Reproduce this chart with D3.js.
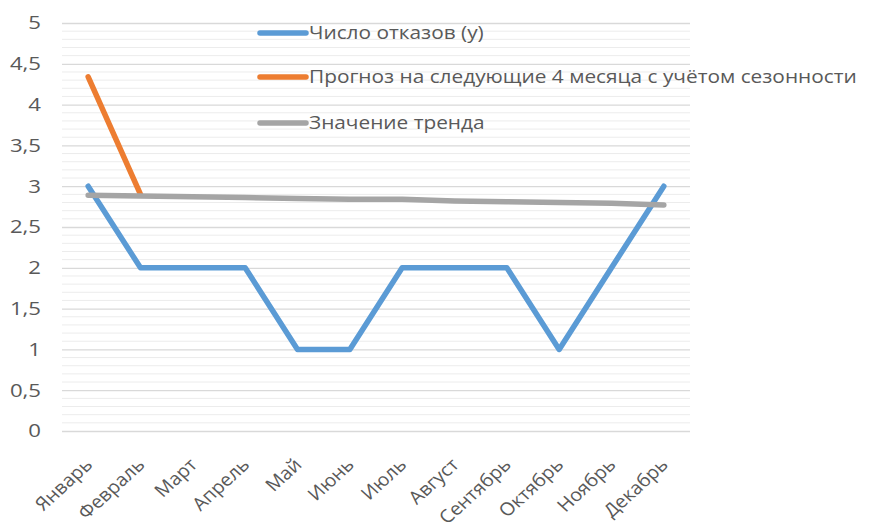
<!DOCTYPE html>
<html><head><meta charset="utf-8">
<script src="https://cdn.jsdelivr.net/npm/d3@7"></script>
<style>body{margin:0;background:#fff}svg{display:block}text{font-family:"Open Sans",sans-serif;fill:#595959}</style>
</head><body><svg id="c" width="873" height="528"></svg>
<script>
const months = ["Январь","Февраль","Март","Апрель","Май","Июнь","Июль","Август","Сентябрь","Октябрь","Ноябрь","Декабрь"];
const failures = [3,2,2,2,1,1,2,2,2,1,2,3];
const forecast = [4.34,2.9,null,null,null,null,null,null,null,null,null,null];
const trend = [2.89,2.88,2.87,2.86,2.85,2.84,2.84,2.82,2.81,2.80,2.79,2.77];
const yTicks = [0,0.5,1,1.5,2,2.5,3,3.5,4,4.5,5];
const seriesNames = ["Число отказов (y)","Прогноз на следующие 4 месяца с учётом сезонности","Значение тренда"];
const colors = ["#5B9BD5","#ED7D31","#A5A5A5"];

const svg = d3.select("#c");
const x = d3.scalePoint().domain(months).range([62,690]).padding(0.5);
const y = d3.scaleLinear().domain([0,5]).range([431,23]);

// minor grid
const minor = d3.range(0,50).map(i=>i/10).filter(v=>Math.round(v*10)%5!==0);
svg.append("g").selectAll("line").data(minor).join("line")
  .attr("x1",62).attr("x2",690).attr("y1",d=>y(d)).attr("y2",d=>y(d))
  .attr("stroke","#ececec").attr("stroke-width",1);
// major grid + y axis labels
const yAxis = d3.axisLeft(y).tickValues(yTicks).tickSize(-628).tickPadding(21)
  .tickFormat(d=>String(d).replace(".",","));
const ga = svg.append("g").attr("transform","translate(62,0)").call(yAxis);
ga.select(".domain").remove();
ga.selectAll("line").attr("stroke","#d9d9d9").attr("stroke-width",1.3);
ga.selectAll("text").style("font-size","18.5px").style("font-family","'Open Sans',sans-serif").attr("fill","#595959")
  .attr("x",0).attr("transform","translate(-21,0) scale(1.2,1)");

// x labels
const gx = svg.append("g").attr("transform","translate(0,431)").call(d3.axisBottom(x).tickSize(0).tickPadding(0));
gx.select(".domain").remove();
gx.selectAll("text").style("font-size","18px").style("font-family","'Open Sans',sans-serif").attr("fill","#595959")
  .attr("text-anchor","end").attr("dy",0).attr("y",0)
  .attr("transform","translate(5,35) scale(1.1,1) rotate(-45)");

const line = d3.line().defined(d=>d!=null).x((d,i)=>x(months[i])).y(d=>y(d));
const lines = [failures,forecast,trend];
svg.append("g").selectAll("path").data(lines).join("path")
  .attr("d",d=>line(d)).attr("fill","none")
  .attr("stroke",(d,i)=>colors[i]).attr("stroke-width",5.5)
  .attr("stroke-linecap","round").attr("stroke-linejoin","round");

// legend
const legY = [33,77,123];
const lg = svg.append("g");
seriesNames.forEach((n,i)=>{
  lg.append("line").attr("x1",260).attr("x2",306).attr("y1",legY[i]).attr("y2",legY[i])
    .attr("stroke",colors[i]).attr("stroke-width",5.5).attr("stroke-linecap","round");
  lg.append("text").attr("transform",`translate(309,${legY[i]}) scale(1.19,1)`).attr("dy","0.35em")
    .style("font-size","17.5px").text(n);
});
</script></body></html>
